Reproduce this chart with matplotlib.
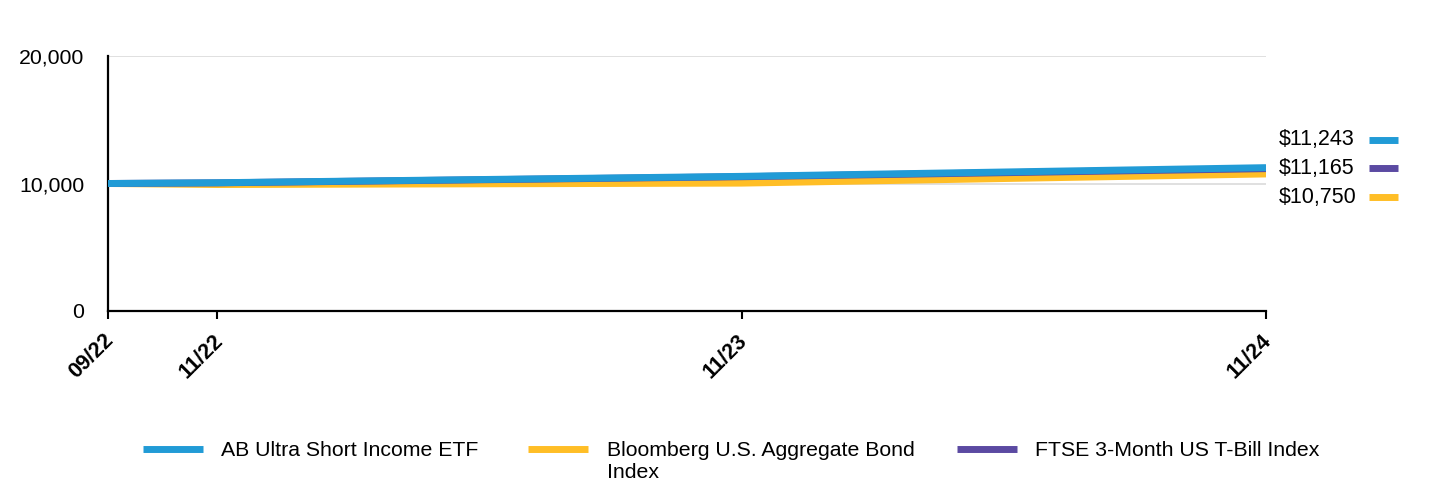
import matplotlib
matplotlib.use("Agg")
import matplotlib.pyplot as plt
import matplotlib.transforms as mtransforms
from matplotlib.lines import Line2D

plt.rcParams['font.family'] = ['Liberation Sans', 'DejaVu Sans']

# months since inception (09/22)
x_months = [0, 2.5, 14.5, 26.5]
tick_labels = ["09/22", "11/22", "11/23", "11/24"]

series_names = ["AB Ultra Short Income ETF", "Bloomberg U.S. Aggregate Bond\nIndex",
                "FTSE 3-Month US T-Bill Index"]
ab_etf = [10000, 10060, 10560, 11243]
bbg_agg = [10000, 9920, 10030, 10750]
tbill = [10000, 10050, 10530, 11165]
end_labels = ["$11,243", "$11,165", "$10,750"]

c_blue = "#219BD6"
c_yellow = "#FFBE26"
c_purple = "#5B4AA2"

W, H = 1440, 492
fig = plt.figure(figsize=(14.4, 4.92), dpi=100)
ax = fig.add_axes([108 / W, 1 - 311 / H, (1266 - 108) / W, (311 - 56) / H])

ax.plot(x_months, bbg_agg, color=c_yellow, lw=5, solid_capstyle='butt', zorder=3)
ax.plot(x_months, tbill, color=c_purple, lw=5, solid_capstyle='butt', zorder=4)
ax.plot(x_months, ab_etf, color=c_blue, lw=5, solid_capstyle='butt', zorder=5)

ax.set_xlim(0, 26.5)
ax.set_ylim(0, 20000)
ax.set_yticks([0, 10000, 20000])
ax.set_yticklabels(["0", "10,000", "20,000"], fontsize=15.3)
ax.yaxis.grid(True, color="#DDDDDD", lw=1.3)
ax.set_axisbelow(True)
ax.tick_params(axis='y', length=0, pad=17)

ax.set_xticks(x_months)
ax.set_xticklabels(tick_labels, fontsize=15.5, fontweight='bold', rotation=45,
                   ha='right', va='top', rotation_mode='anchor')
ax.tick_params(axis='x', length=6, width=1.5, direction='out', pad=4)
offset = mtransforms.ScaledTranslation(-5 / 100, -5 / 100, fig.dpi_scale_trans)
for lbl in ax.get_xticklabels():
    lbl.set_transform(lbl.get_transform() + offset)

for s in ['top', 'right']:
    ax.spines[s].set_visible(False)
for s in ['left', 'bottom']:
    ax.spines[s].set_linewidth(1.6)
    ax.spines[s].set_color('black')

# right-side value labels
label_y = [140, 168, 197]
label_colors = [c_blue, c_purple, c_yellow]
for lab, yy, col in zip(end_labels, label_y, label_colors):
    fig.text(1279 / W, 1 - yy / H, lab, fontsize=15.5, ha='left', va='center')
    fig.add_artist(Line2D([1369 / W, 1398 / W], [1 - yy / H, 1 - yy / H],
                          color=col, lw=5, solid_capstyle='butt',
                          transform=fig.transFigure))

# bottom legend
leg_items = [(143, 221, c_blue, series_names[0]),
             (528, 607, c_yellow, series_names[1]),
             (957, 1035, c_purple, series_names[2])]
ly = 449
for x0, xt, col, name in leg_items:
    fig.add_artist(Line2D([x0 / W, (x0 + 60) / W], [1 - ly / H, 1 - ly / H],
                          color=col, lw=5, solid_capstyle='butt',
                          transform=fig.transFigure))
    fig.text(xt / W, 1 - 441 / H, name, fontsize=15.3, ha='left', va='top',
             linespacing=1.2)

fig.savefig("out.png", dpi=100)
